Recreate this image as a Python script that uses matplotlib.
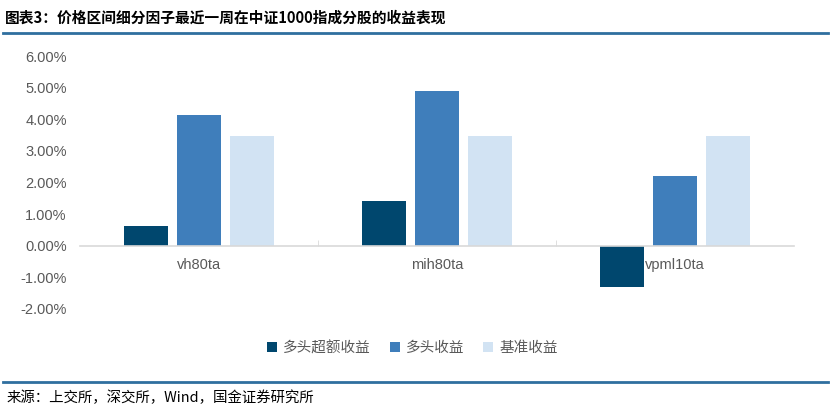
import matplotlib
matplotlib.use('Agg')
import matplotlib.pyplot as plt
import matplotlib.ticker as mticker
import numpy as np

plt.rcParams['font.family'] = ['Liberation Sans', 'Noto Sans CJK SC', 'DejaVu Sans']

categories = ['vh80ta', 'mih80ta', 'vpml10ta']
series_names = ['多头超额收益', '多头收益', '基准收益']
excess = [0.0063, 0.0140, -0.0130]
long_ret = [0.0413, 0.0489, 0.0222]
bench = [0.0346, 0.0346, 0.0346]
colors = ['#00476e', '#3f7ebb', '#d2e3f3']
yticks = [-0.02, -0.01, 0.0, 0.01, 0.02, 0.03, 0.04, 0.05, 0.06]

title = '图表3：价格区间细分因子最近一周在中证1000指成分股的收益表现'
source = '来源：上交所，深交所，Wind，国金证券研究所'

fig = plt.figure(figsize=(8.31, 4.12), dpi=100)
ax = fig.add_axes([0.0963, 0.25, 0.859, 0.614])

x = np.arange(len(categories))
w = 0.185
off = 0.222
for k, vals in enumerate([excess, long_ret, bench]):
    ax.bar(x + (k - 1) * off, vals, width=w, color=colors[k], label=series_names[k], zorder=2)

ax.set_xlim(-0.5, 2.5)
ax.set_ylim(-0.02, 0.06)
ax.set_yticks(yticks)
ax.yaxis.set_major_formatter(mticker.FuncFormatter(lambda v, p: '%.2f%%' % (v * 100)))
ax.tick_params(axis='y', length=0, pad=9.5, labelsize=10.5, labelcolor='#595959')

ax.spines['bottom'].set_position(('data', 0))
ax.spines['bottom'].set_color('#d9d9d9')
ax.spines['bottom'].set_linewidth(1.2)
for s in ['top', 'right', 'left']:
    ax.spines[s].set_visible(False)
ax.set_xticks(x)
ax.set_xticklabels(categories)
ax.tick_params(axis='x', which='major', length=0, pad=9, labelsize=10.5, labelcolor='#595959')
ax.set_xticks([0.5, 1.5], minor=True)
ax.tick_params(axis='x', which='minor', length=4, direction='in', color='#d9d9d9')

leg = fig.legend(loc='center', bbox_to_anchor=(0.496, 0.155), ncol=3, frameon=False,
                 handlelength=0.7, handleheight=0.7, handletextpad=0.4, columnspacing=1.3,
                 prop={'family': ['Noto Sans CJK SC'], 'size': 10.5})
for t in leg.get_texts():
    t.set_color('#595959')

fig.text(0.006, 0.958, title, fontsize=10.6, fontweight='bold', fontstyle='italic',
         family=['Noto Sans CJK SC', 'DejaVu Sans'], va='center', ha='left', color='black')
fig.add_artist(plt.Line2D([0.004, 0.996], [0.921, 0.921], color='#2f6f9f', linewidth=2))
fig.add_artist(plt.Line2D([0.004, 0.996], [0.073, 0.073], color='#2f6f9f', linewidth=2))
fig.text(0.008, 0.035, source, fontsize=10.4, family=['Noto Sans CJK SC', 'DejaVu Sans'],
         va='center', ha='left', color='black')

fig.savefig('out.png', dpi=100)
